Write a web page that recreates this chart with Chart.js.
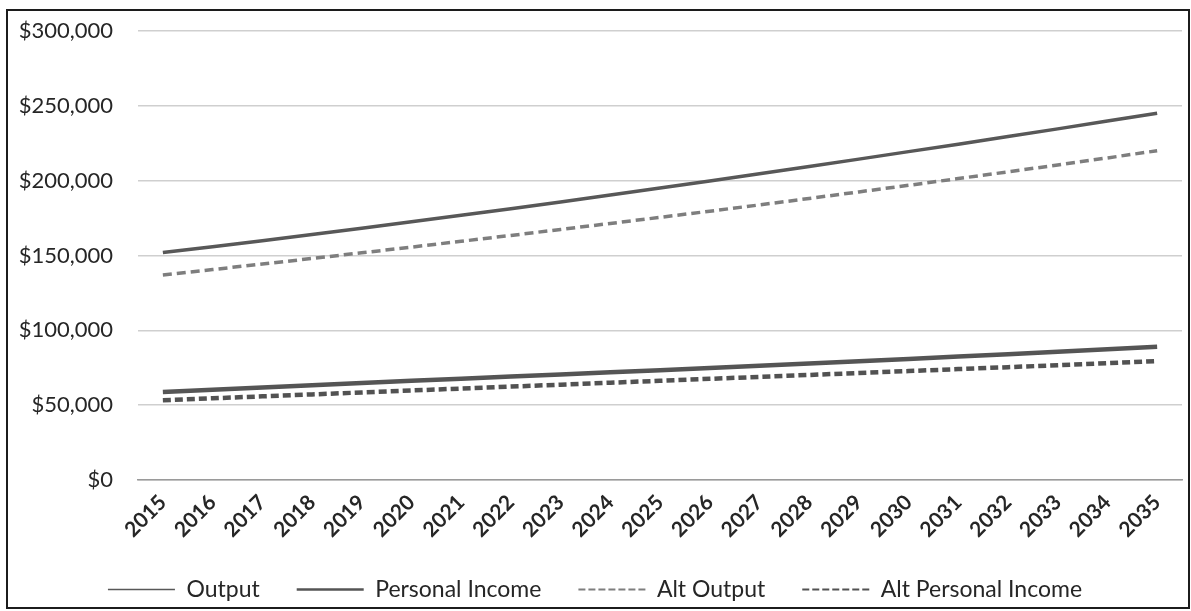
<!DOCTYPE html>
<html>
<head>
<meta charset="utf-8">
<title>Output and Personal Income, 2015–2035</title>
<script src="https://cdn.jsdelivr.net/npm/chart.js@4/dist/chart.umd.min.js"></script>
<style>
  html, body { margin: 0; padding: 0; background: #fff; overflow: hidden; }
  #frame {
    position: absolute; left: 6px; top: 9px; width: 1184px; height: 600px;
    border: 2px solid #1c1c1c; box-sizing: border-box; pointer-events: none;
  }
  #wrap { position: absolute; left: 8px; top: 11px; width: 1180px; height: 600px; }
</style>
</head>
<body>
<div id="wrap"><canvas id="chart"></canvas></div>
<div id="frame"></div>
<script>
// Years on the category axis
const years = ['2015','2016','2017','2018','2019','2020','2021','2022','2023','2024',
               '2025','2026','2027','2028','2029','2030','2031','2032','2033','2034','2035'];

// Series values (dollars)
const output = [152000,155900,159900,164000,168200,172500,176900,181300,185800,190400,
                195100,199800,204600,209500,214400,219400,224400,229500,234600,239800,245000];
const personalIncome = [58800,60300,61800,63300,64800,66300,67700,69100,70500,72000,
                        73400,74900,76400,77900,79400,80900,82500,84100,85700,87300,89000];
const altOutput = [137000,140600,144300,148000,151800,155600,159500,163400,167400,171400,
                   175500,179600,183800,188100,192500,196900,201400,205900,210500,215200,220000];
const altPersonalIncome = [53300,54600,55900,57200,58500,59800,61100,62400,63700,65000,
                           66300,67600,68900,70200,71500,72800,74100,75400,76700,78100,79500];

// Value axis ticks
const yTicks = [0, 50000, 100000, 150000, 200000, 250000, 300000];

const fontFamily = 'Lato, "Open Sans", sans-serif';

new Chart(document.getElementById('chart'), {
  type: 'line',
  data: {
    labels: years,
    datasets: [
      { label: 'Output', data: output, borderColor: '#585858', borderWidth: 3.5,
        pointRadius: 0, tension: 0, legendWidth: 1.6 },
      { label: 'Personal Income', data: personalIncome, borderColor: '#555555', borderWidth: 4.5,
        pointRadius: 0, tension: 0, legendWidth: 2.4 },
      { label: 'Alt Output', data: altOutput, borderColor: '#7e7e7e', borderWidth: 3.5,
        borderDash: [9, 5], pointRadius: 0, tension: 0, legendWidth: 1.8 },
      { label: 'Alt Personal Income', data: altPersonalIncome, borderColor: '#525252', borderWidth: 4.5,
        borderDash: [8, 4], pointRadius: 0, tension: 0, legendWidth: 2 }
    ]
  },
  options: {
    responsive: true,
    maintainAspectRatio: false,
    animation: false,
    layout: { padding: { left: 0, right: 6, top: 20, bottom: 0 } },
    scales: {
      x: {
        type: 'category',
        offset: true,
        grid: { display: false, drawTicks: false },
        border: { display: true, color: '#9a9a9a', width: 1.5 },
        ticks: {
          minRotation: 45, maxRotation: 45, padding: 10, autoSkip: false,
          color: '#262626',
          font: { family: fontFamily, size: 21, weight: 'bold' }
        },
        afterFit: (scale) => { scale.height = 61; }
      },
      y: {
        min: 0, max: 300000,
        afterBuildTicks: (scale) => { scale.ticks = yTicks.map(v => ({ value: v })); },
        grid: { color: '#cfcfcf', lineWidth: 1.5, drawTicks: false },
        border: { display: false },
        ticks: {
          padding: 25,
          color: '#262626',
          font: { family: fontFamily, size: 22 },
          callback: (v) => '$' + Number(v).toLocaleString('en-US')
        },
        afterFit: (scale) => {
          scale.width = 130;
          // the label gap should not push the plot area down
          scale.paddingTop = 0;
          scale.paddingBottom = 0;
        }
      }
    },
    plugins: {
      tooltip: { enabled: false },
      legend: {
        position: 'bottom',
        labels: {
          usePointStyle: true,
          pointStyle: 'line',
          pointStyleWidth: 67,
          padding: 37,
          color: '#262626',
          font: { family: fontFamily, size: 23 },
          generateLabels: (chart) => {
            const items = Chart.defaults.plugins.legend.labels.generateLabels(chart);
            items.forEach((it) => {
              const ds = chart.data.datasets[it.datasetIndex];
              it.lineWidth = ds.legendWidth;
              it.pointStyle = 'line';
              it.lineDash = ds.borderDash ? [7, 3] : [];
            });
            return items;
          }
        }
      }
    }
  }
});
</script>
</body>
</html>
